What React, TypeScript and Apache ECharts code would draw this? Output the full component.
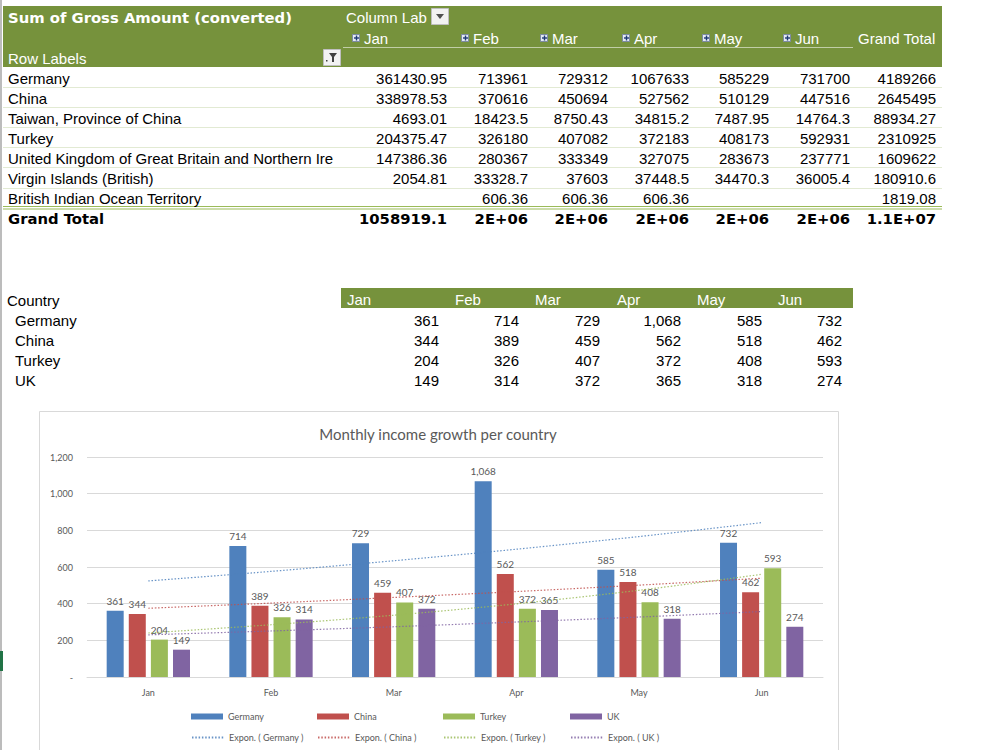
import { useEffect, useRef } from 'react';
import * as echarts from 'echarts';

// ---- Pivot table: Sum of Gross Amount (converted) ----
const pivotMonths = ['Jan', 'Feb', 'Mar', 'Apr', 'May', 'Jun'];
const pivotCountries = [
  'Germany',
  'China',
  'Taiwan, Province of China',
  'Turkey',
  'United Kingdom of Great Britain and Northern Ireland',
  'Virgin Islands (British)',
  'British Indian Ocean Territory',
];
const pivotGermany = ['361430.95', '713961', '729312', '1067633', '585229', '731700', '4189266'];
const pivotChina = ['338978.53', '370616', '450694', '527562', '510129', '447516', '2645495'];
const pivotTaiwan = ['4693.01', '18423.5', '8750.43', '34815.2', '7487.95', '14764.3', '88934.27'];
const pivotTurkey = ['204375.47', '326180', '407082', '372183', '408173', '592931', '2310925'];
const pivotUK = ['147386.36', '280367', '333349', '327075', '283673', '237771', '1609622'];
const pivotVirgin = ['2054.81', '33328.7', '37603', '37448.5', '34470.3', '36005.4', '180910.6'];
const pivotBIOT = ['', '606.36', '606.36', '606.36', '', '', '1819.08'];
const pivotGrandTotal = ['1058919.1', '2E+06', '2E+06', '2E+06', '2E+06', '2E+06', '1.1E+07'];

// ---- Summary table / chart data (thousands) ----
const months = ['Jan', 'Feb', 'Mar', 'Apr', 'May', 'Jun'];
const countries = ['Germany', 'China', 'Turkey', 'UK'];
const germany = [361, 714, 729, 1068, 585, 732];
const china = [344, 389, 459, 562, 518, 462];
const turkey = [204, 326, 407, 372, 408, 593];
const uk = [149, 314, 372, 365, 318, 274];

// Exponential trendline values at each month
const germanyTrend = [524, 576, 634, 697, 766, 842];
const chinaTrend = [375, 403, 434, 466, 501, 539];
const turkeyTrend = [240, 285, 337, 399, 473, 560];
const ukTrend = [230, 251, 274, 300, 327, 357];

const yTicks = { min: 0, max: 1200, interval: 200 };

const GREEN = '#76923C';
const COLORS = ['#4F81BD', '#C0504D', '#9BBB59', '#8064A2'];
const SHEET_FONT = '"Liberation Sans", Arial, sans-serif';
const BOLD_FONT = '"DejaVu Sans", Verdana, sans-serif';
const CHART_FONT = 'Lato, "Open Sans", sans-serif';

function txt(text: string, x: number, y: number, opts: any = {}) {
  return {
    type: 'text',
    x,
    y,
    z: 10,
    silent: true,
    style: {
      text,
      fill: opts.fill || '#000',
      fontFamily: opts.fontFamily || SHEET_FONT,
      fontSize: opts.fontSize || 15,
      fontWeight: opts.fontWeight || 'normal',
      align: opts.align || 'left',
      verticalAlign: 'middle',
      ...(opts.width ? { width: opts.width, overflow: 'truncate', ellipsis: '' } : {}),
    },
  };
}

function hline(x1: number, x2: number, y: number, stroke: string, lineWidth = 1) {
  return {
    type: 'line',
    z: 5,
    silent: true,
    shape: { x1, y1: y, x2, y2: y },
    style: { stroke, lineWidth },
  };
}

function expandIcon(x: number, cy: number) {
  return [
    {
      type: 'rect',
      z: 10,
      shape: { x: x + 0.5, y: cy - 3.5, width: 7, height: 7 },
      style: { fill: '#e3e9f2', stroke: '#7d8ba3', lineWidth: 1 },
    },
    { type: 'line', z: 11, shape: { x1: x + 2, y1: cy, x2: x + 7, y2: cy }, style: { stroke: '#1f3b73', lineWidth: 1.4 } },
    { type: 'line', z: 11, shape: { x1: x + 4.5, y1: cy - 2.5, x2: x + 4.5, y2: cy + 2.5 }, style: { stroke: '#1f3b73', lineWidth: 1.4 } },
  ];
}

function buildSheet() {
  const g: any[] = [];

  // row-header edge of the sheet
  g.push({ type: 'line', z: 5, shape: { x1: 1, y1: 0, x2: 1, y2: 750 }, style: { stroke: '#a6a6a6', lineWidth: 1.5 } });
  g.push({ type: 'rect', z: 6, shape: { x: 0, y: 651, width: 3, height: 20 }, style: { fill: '#217346' } });

  // ---- pivot table ----
  g.push({ type: 'rect', z: 1, shape: { x: 3, y: 6, width: 939, height: 61 }, style: { fill: GREEN } });
  g.push(hline(343, 853, 47.5, 'rgba(255,255,255,0.55)'));
  g.push(txt('Sum of Gross Amount (converted)', 8, 17, { fill: '#fff', fontFamily: BOLD_FONT, fontWeight: 'bold', fontSize: 14.8 }));
  g.push(txt('Column Labels', 346, 17, { fill: '#fff', width: 86 }));
  // column-label dropdown button
  g.push({ type: 'rect', z: 10, shape: { x: 431.5, y: 8.5, width: 17, height: 16 }, style: { fill: '#f2f2f2', stroke: '#bfbfbf' } });
  g.push({ type: 'polygon', z: 11, shape: { points: [[436, 14], [444, 14], [440, 19]] }, style: { fill: '#505050' } });

  const iconX = [352, 461, 540, 622, 702, 783];
  pivotMonths.forEach((m, i) => {
    g.push(...expandIcon(iconX[i], 38));
    g.push(txt(m, iconX[i] + 12, 38, { fill: '#fff' }));
  });
  g.push(txt('Grand Total', 858, 38, { fill: '#fff' }));
  g.push(txt('Row Labels', 8, 58, { fill: '#fff' }));
  // row-label filter button
  g.push({ type: 'rect', z: 10, shape: { x: 323.5, y: 49.5, width: 17, height: 16 }, style: { fill: '#f2f2f2', stroke: '#bfbfbf' } });
  g.push({ type: 'polygon', z: 11, shape: { points: [[329, 53], [337, 53], [334, 57], [334, 62], [332, 62], [332, 57]] }, style: { fill: '#404040' } });
  g.push({ type: 'rect', z: 11, shape: { x: 326, y: 60, width: 1.5, height: 1.5 }, style: { fill: '#404040' } });

  const pivotRight = [447, 528, 608, 689, 769, 850, 936];
  const pivotRows = [pivotGermany, pivotChina, pivotTaiwan, pivotTurkey, pivotUK, pivotVirgin, pivotBIOT];
  pivotRows.forEach((row, r) => {
    const cy = 78 + r * 20.1;
    g.push(txt(pivotCountries[r], 8, cy, { width: 331 }));
    row.forEach((v, c) => {
      if (v) g.push(txt(v, pivotRight[c], cy, { align: 'right' }));
    });
    if (r < pivotRows.length - 1) g.push(hline(3, 942, Math.round(cy + 10) - 0.5, '#e2ead3'));
  });
  g.push(hline(3, 942, 206.5, '#9bbb59'));
  g.push(hline(3, 942, 209, '#9bbb59'));
  g.push(txt('Grand Total', 8, 218.5, { fontFamily: BOLD_FONT, fontWeight: 'bold', fontSize: 14.8 }));
  pivotGrandTotal.forEach((v, c) => {
    g.push(txt(v, pivotRight[c], 218.5, { align: 'right', fontFamily: BOLD_FONT, fontWeight: 'bold', fontSize: 14.8 }));
  });

  // ---- summary table ----
  g.push(txt('Country', 7, 300));
  g.push({ type: 'rect', z: 1, shape: { x: 341, y: 288, width: 512, height: 20 }, style: { fill: GREEN } });
  const headX = [347, 455, 535, 617, 697, 778];
  months.forEach((m, i) => g.push(txt(m, headX[i], 299.5, { fill: '#fff' })));
  const sumRight = [439, 519, 600, 681, 762, 842];
  [germany, china, turkey, uk].forEach((row, r) => {
    const cy = 320.5 + r * 20;
    g.push(txt(countries[r], 15, cy));
    row.forEach((v, c) => g.push(txt(v.toLocaleString('en-US'), sumRight[c], cy, { align: 'right' })));
  });

  // ---- chart frame and title ----
  g.push({ type: 'rect', z: 0, shape: { x: 39.5, y: 411.5, width: 799, height: 360 }, style: { fill: '#fff', stroke: '#d9d9d9', lineWidth: 1 } });
  g.push(txt('Monthly income growth per country', 438, 433.5, { fill: '#595959', fontFamily: CHART_FONT, fontSize: 15, align: 'center' }));

  return g;
}

const barSeries = [germany, china, turkey, uk].map((data, i) => ({
  name: countries[i],
  type: 'bar',
  data,
  barWidth: 17,
  barGap: '30%',
  itemStyle: { color: COLORS[i] },
  label: {
    show: true,
    position: 'top',
    distance: 5,
    fontFamily: CHART_FONT,
    fontSize: 10,
    color: '#595959',
    formatter: (p: any) => Number(p.value).toLocaleString('en-US'),
  },
  z: 2,
}));

const trendSeries = [germanyTrend, chinaTrend, turkeyTrend, ukTrend].map((data, i) => ({
  name: `Expon. ( ${countries[i]} )`,
  type: 'line',
  data,
  symbol: 'none',
  smooth: 0.3,
  lineStyle: { color: COLORS[i], width: 1.2, type: [1.5, 1.8], opacity: 0.85 },
  itemStyle: { color: COLORS[i] },
  z: 4,
}));

const legendCols = [191, 317, 443, 570];
const legendBase = {
  padding: 0,
  selectedMode: false,
  itemWidth: 32,
  textStyle: { fontFamily: CHART_FONT, fontSize: 9, color: '#595959' },
};
const legends = [
  ...countries.map((c, i) => ({ ...legendBase, data: [c], left: legendCols[i], top: 712, itemHeight: 6, icon: 'rect' })),
  ...countries.map((c, i) => ({
    ...legendBase,
    data: [`Expon. ( ${c} )`],
    left: legendCols[i],
    top: 733,
    itemHeight: 8,
    itemStyle: { opacity: 0 },
    lineStyle: { opacity: 0.85 },
  })),
];

export default function App() {
  const ref = useRef<HTMLDivElement>(null);
  useEffect(() => {
    if (!ref.current) return;
    const chart = echarts.init(ref.current, undefined, { renderer: 'svg' });
    chart.setOption({
      animation: false,
      backgroundColor: '#fff',
      graphic: { elements: buildSheet() },
      legend: legends,
      grid: { left: 87, right: 177, top: 457, bottom: 73, containLabel: false },
      xAxis: {
        type: 'category',
        data: months,
        axisLine: { lineStyle: { color: '#d9d9d9' } },
        axisTick: { show: false },
        axisLabel: { fontFamily: CHART_FONT, fontSize: 9, color: '#595959', margin: 11 },
      },
      yAxis: {
        type: 'value',
        min: yTicks.min,
        max: yTicks.max,
        interval: yTicks.interval,
        axisLine: { show: false },
        axisTick: { show: false },
        splitLine: { lineStyle: { color: '#d9d9d9' } },
        axisLabel: {
          fontFamily: CHART_FONT,
          fontSize: 9,
          color: '#595959',
          margin: 14,
          formatter: (v: number) => (v === 0 ? '-' : v.toLocaleString('en-US')),
        },
      },
      series: [...barSeries, ...trendSeries],
    });
    return () => chart.dispose();
  }, []);
  return (
    <div
      ref={ref}
      style={{ position: 'fixed', left: 0, top: 0, width: 1000, height: 750, background: '#fff' }}
    />
  );
}
